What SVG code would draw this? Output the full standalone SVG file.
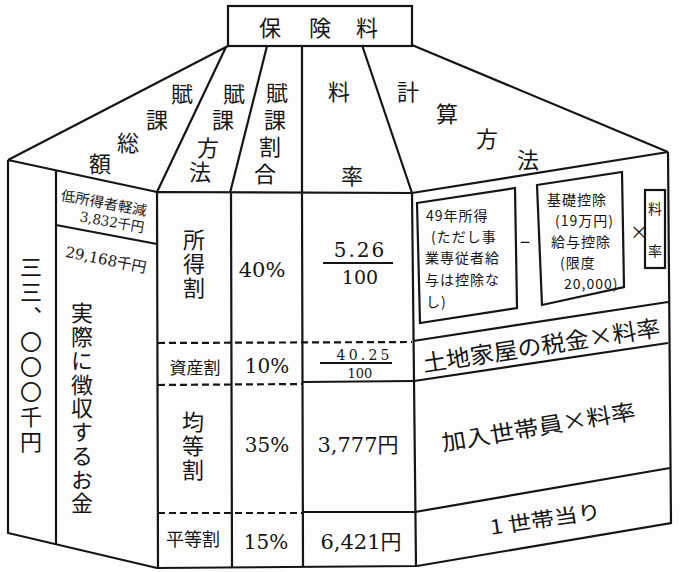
<svg xmlns="http://www.w3.org/2000/svg" width="683" height="572" viewBox="0 0 683 572">
<style>
.ln{stroke:#151515;stroke-width:2.2;fill:none;stroke-linejoin:miter}
.ds{stroke:#151515;stroke-width:2.2;fill:none;stroke-dasharray:7 4}
.jp{font-family:"Noto Sans CJK JP",sans-serif;fill:#151515}
.nm{font-family:"DejaVu Serif","Noto Sans CJK JP",serif;fill:#151515}
.c{text-anchor:middle;dominant-baseline:central}
.v{writing-mode:vertical-rl;text-anchor:start}
.bx{font-size:14px;letter-spacing:1px;dominant-baseline:central}
</style>
<rect width="683" height="572" fill="#fdfdfd"/>
<g id="lines">
  <rect class="ln" x="228" y="6" width="184" height="40"/>
  <path class="ln" d="M228,46 L8,160 M226,47 L157,192 M267,46 L230,193 M302,46 L302,193 M362,45 L412,193 M412,45 L668,152"/>
  <path class="ln" d="M8,160 L157,192 M8,160 L8,533 L157,568 M56,170 L56,544 M56,225 L157,244"/>
  <path class="ln" d="M157,192 L412,193 M157,192 L158,568 L417,566 M231,193 L232,567 M302,193 L303,567 M412,193 L416,566"/>
  <path class="ds" d="M158,343 L412,342 M158,385 L303,384 M158,513 L303,513"/>
  <path class="ln" d="M303,382 L414,381 M303,512 L415,512"/>
  <path class="ln" d="M412,193 L668,152 M668,152 L671,523 L417,566 M413,341 L668,302 M414,381 L668,343 M415,512 L670,468"/>
</g>
<g id="title">
  <text class="jp c" font-size="22" x="270 320 367" y="26">保険料</text>
</g>
<g id="roof-labels">
  <text class="jp c" font-size="22" x="182 157 128 100" y="92 118 141 162">賦課総額</text>
  <text class="jp c" font-size="22" x="234 223 208 200" y="92 118 146 170">賦課方法</text>
  <text class="jp c" font-size="22" x="277 275 270 265" y="91 118 145 172">賦課割合</text>
  <text class="jp c" font-size="22" x="339 352" y="90 174">料率</text>
  <text class="jp c" font-size="22" x="408 447 487 528" y="90 112 137 158">計算方法</text>
</g>
<g id="left-face">
  <text class="jp v" font-size="22" x="31" y="256" letter-spacing="3">三三、〇〇〇千円</text>
  <text class="jp c" font-size="14" transform="translate(104,202) rotate(10.6)" textLength="87" lengthAdjust="spacingAndGlyphs">低所得者軽減</text>
  <text class="nm c" font-size="14" transform="translate(112,222) rotate(10)" textLength="65" lengthAdjust="spacingAndGlyphs">3,832千円</text>
  <text class="nm c" font-size="15" transform="translate(106,260) rotate(11.5)" textLength="82" lengthAdjust="spacingAndGlyphs">29,168千円</text>
  <text class="jp v" font-size="22" x="82" y="302" letter-spacing="1.75">実際に徴収するお金</text>
</g>
<g id="row-income">
  <text class="jp v" font-size="22" x="194" y="229" letter-spacing="2">所得割</text>
  <text class="nm c" font-size="21" x="262" y="270">40%</text>
  <text class="nm c" font-size="20" x="360" y="250" letter-spacing="2">5.26</text>
  <path class="ln" d="M323,263 L393,263" stroke-width="2"/>
  <text class="nm c" font-size="19" x="360" y="277">100</text>
</g>
<g id="row-asset">
  <text class="jp c" font-size="17" x="195" y="366">資産割</text>
  <text class="nm c" font-size="20" x="267" y="366">10%</text>
  <text class="nm c" font-size="14" x="363" y="355" textLength="53" lengthAdjust="spacing">40.25</text>
  <path class="ln" d="M320,363 L392,363" stroke-width="1.8"/>
  <text class="nm c" font-size="13" x="360" y="373">100</text>
</g>
<g id="row-member">
  <text class="jp v" font-size="22" x="193" y="411" letter-spacing="2">均等割</text>
  <text class="nm c" font-size="20" x="267" y="445">35%</text>
  <text class="nm c" font-size="21" x="358" y="445">3,777円</text>
</g>
<g id="row-household">
  <text class="jp c" font-size="18" x="193" y="538">平等割</text>
  <text class="nm c" font-size="20" x="266" y="542">15%</text>
  <text class="nm c" font-size="21" x="361" y="542">6,421円</text>
</g>
<g id="calc-income">
  <polygon class="ln" points="417,203 515,188 517,308 420,323"/>
  <text class="jp bx" x="426" y="215">49年所得</text>
  <text class="jp bx" x="431" y="236">(ただし事</text>
  <text class="jp bx" x="425" y="257">業専従者給</text>
  <text class="jp bx" x="425" y="279">与は控除な</text>
  <text class="jp bx" x="426" y="301">し)</text>
  <text class="jp c" font-size="18" x="525" y="241">−</text>
  <polygon class="ln" points="537,185 622,172 624,287 542,305"/>
  <text class="jp bx" x="547" y="199">基礎控除</text>
  <text class="jp bx" x="555" y="220">(19万円)</text>
  <text class="jp bx" x="551" y="241">給与控除</text>
  <text class="jp bx" x="560" y="262">(限度</text>
  <text class="jp bx" x="564" y="283" letter-spacing="0">20,000)</text>
  <text class="jp c" font-size="18" x="639" y="231">×</text>
  <rect class="ln" x="645" y="190" width="20" height="78"/>
  <text class="jp c" font-size="14" x="655 655" y="208 250">料率</text>
</g>
<g id="calc-asset">
  <text class="jp c" font-size="23" transform="translate(541,344) rotate(-8.7)" textLength="240" lengthAdjust="spacingAndGlyphs">土地家屋の税金×料率</text>
</g>
<g id="calc-member">
  <text class="jp c" font-size="22" transform="translate(538,425) rotate(-9.5)" textLength="196" lengthAdjust="spacingAndGlyphs">加入世帯員×料率</text>
</g>
<g id="calc-household">
  <text class="jp c" font-size="20" transform="translate(545,518) rotate(-8.5)" textLength="112" lengthAdjust="spacingAndGlyphs">1 世帯当り</text>
</g>
</svg>
